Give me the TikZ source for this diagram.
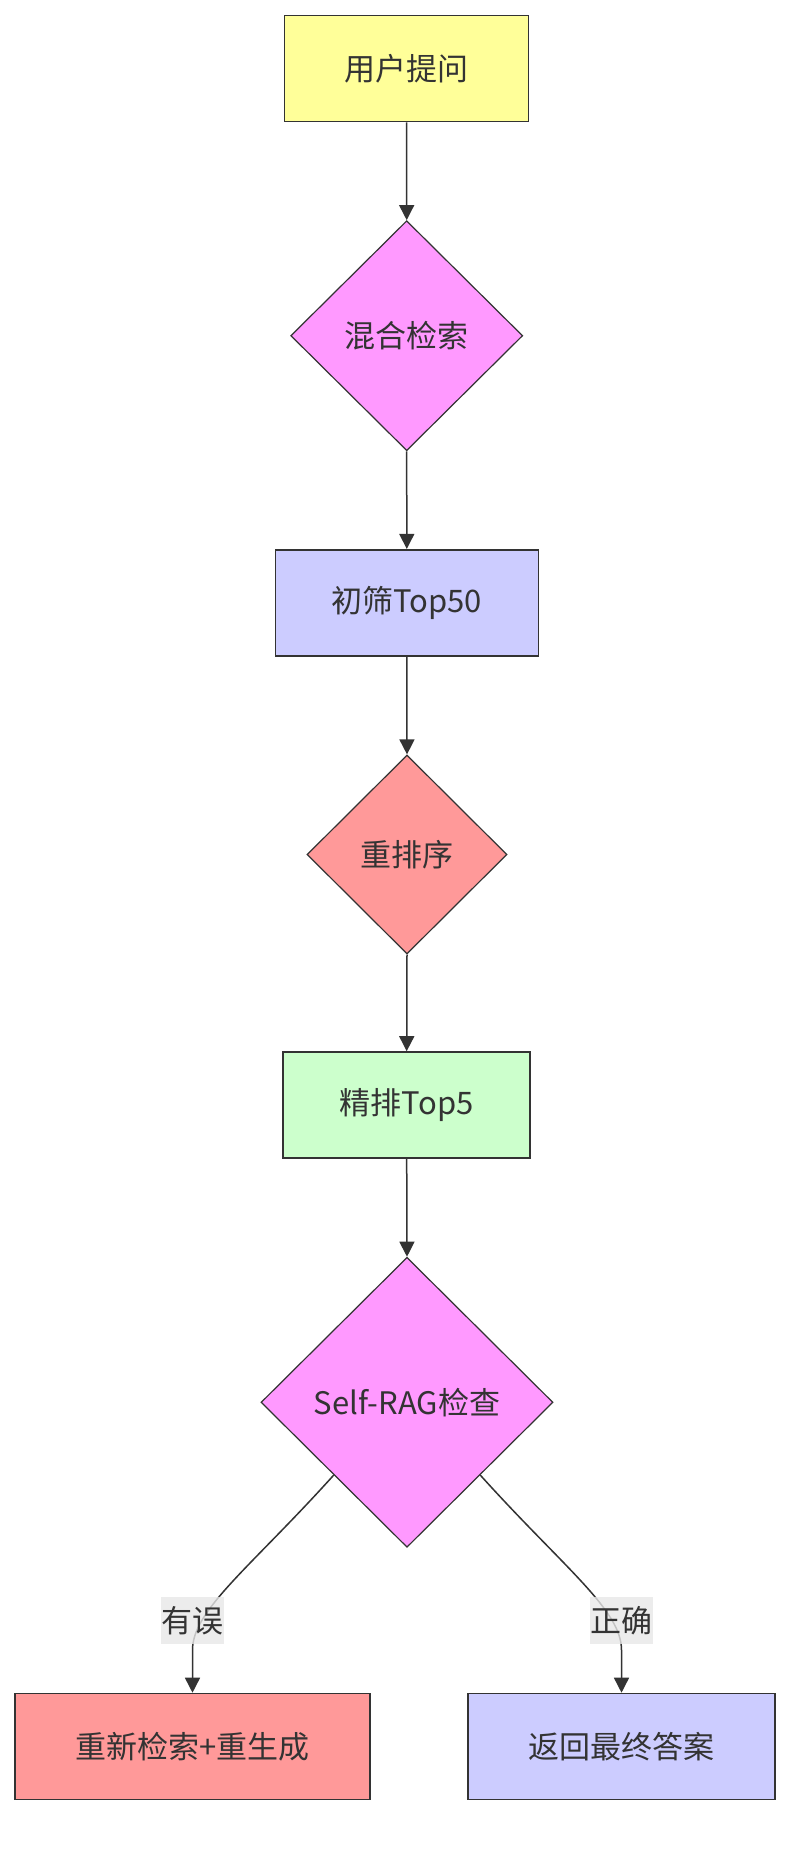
\documentclass[tikz,border=0pt]{standalone}
\usepackage{fontspec}
\newfontfamily\cjk{Noto Sans CJK SC}
\usetikzlibrary{shapes.geometric,arrows.meta}
\definecolor{ink}{HTML}{333333}
\definecolor{cyellow}{HTML}{FFFF99}
\definecolor{cpink}{HTML}{FF99FF}
\definecolor{cblue}{HTML}{CCCCFF}
\definecolor{cred}{HTML}{FF9999}
\definecolor{cgreen}{HTML}{CCFFCC}
\definecolor{clab}{HTML}{E8E8E8}
\tikzset{
  txt/.style={font=\cjk\fontsize{31}{37}\selectfont, text=ink},
  box/.style={txt, draw=ink, line width=1.6pt, rectangle, inner sep=0pt},
  dia/.style={txt, draw=ink, line width=1.2pt, diamond, inner sep=0pt, aspect=1},
  edge/.style={draw=ink, line width=1.5pt, -{Triangle[length=15pt,width=15pt]}},
  lab/.style={txt, fill=clab, fill opacity=0.8, text opacity=1, inner sep=0pt, minimum width=63pt, minimum height=47pt}
}
\begin{document}
\begin{tikzpicture}[x=1pt,y=-1pt]
\useasboundingbox[fill=white] (0,0) rectangle (806,1850);
\node[box, fill=cyellow, minimum width=244pt, minimum height=106pt] (n1) at (406.5,68.5) {用户提问};
\node[dia, fill=cpink, minimum width=232pt, minimum height=230pt] (d1) at (406.7,335.7) {混合检索};
\node[box, fill=cblue, minimum width=263pt, minimum height=106pt] (n2) at (406.8,602.7) {初筛Top50};
\node[dia, fill=cred, minimum width=200pt, minimum height=199pt] (d2) at (407,854.5) {重排序};
\node[box, fill=cgreen, minimum width=247pt, minimum height=106pt] (n3) at (406.7,1105) {精排Top5};
\node[dia, fill=cpink, minimum width=292pt, minimum height=290pt] (d3) at (407,1402.3) {Self-RAG检查};
\node[box, fill=cred, minimum width=355pt, minimum height=106pt] (b1) at (192.5,1746.5) {重新检索+重生成};
\node[box, fill=cblue, minimum width=307pt, minimum height=106pt] (b2) at (621.5,1746.5) {返回最终答案};

\draw[edge] (n1.south) -- (d1.north);
\draw[edge] (d1.south) -- (n2.north);
\draw[edge] (n2.south) -- (d2.north);
\draw[edge] (d2.south) -- (n3.north);
\draw[edge] (n3.south) -- (d3.north);
\draw[edge] (d3.south west) .. controls (250,1568) and (192.5,1610) .. (192.5,1650) -- (b1.north);
\draw[edge] (d3.south east) .. controls (564,1568) and (621.5,1610) .. (621.5,1650) -- (b2.north);

\node[lab] (l1) at (192.5,1620.3) {有误};
\node[lab] (l2) at (621,1620.3) {正确};
\end{tikzpicture}
\end{document}
